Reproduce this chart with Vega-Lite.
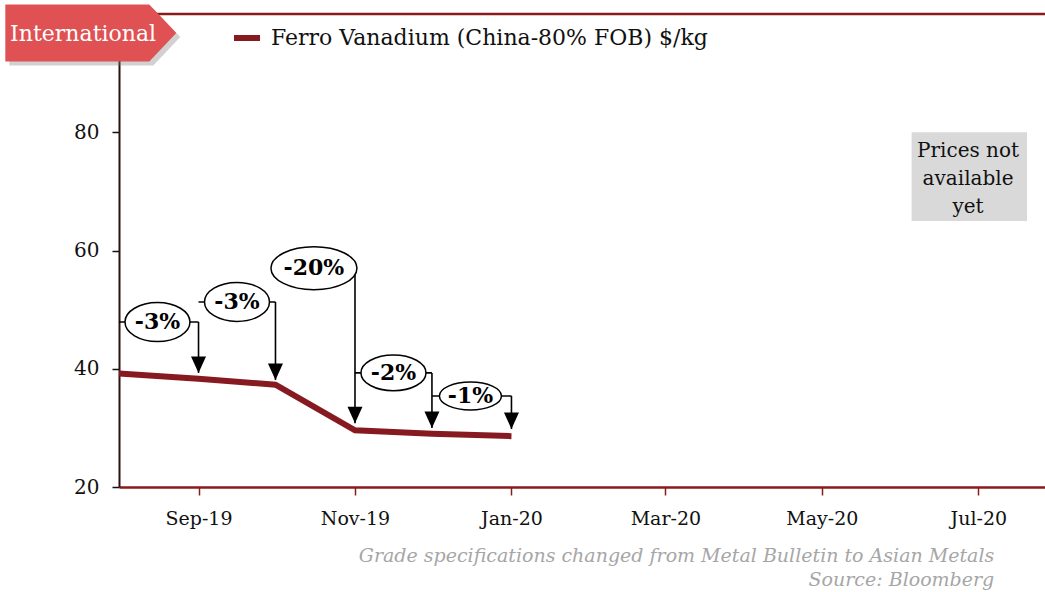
{
  "$schema": "https://vega.github.io/schema/vega-lite/v6.json",
  "width": 926,
  "height": 473,
  "autosize": "none",
  "padding": {"left": 119, "top": 14, "right": 0, "bottom": 105},
  "background": "white",
  "config": {"view": {"stroke": null}, "font": "DejaVu Serif"},
  "title": {
    "text": "Grade specifications changed from Metal Bulletin to Asian Metals",
    "subtitle": "Source: Bloomberg",
    "orient": "bottom",
    "anchor": "end",
    "dx": -52,
    "offset": 19,
    "font": "DejaVu Serif",
    "fontSize": 19,
    "fontStyle": "italic",
    "fontWeight": "normal",
    "color": "#a6a6a6",
    "subtitleFont": "DejaVu Serif",
    "subtitleFontSize": 19,
    "subtitleFontStyle": "italic",
    "subtitleColor": "#a6a6a6",
    "subtitlePadding": 5
  },
  "datasets": {
    "price": [
      {"date": "2019-08-01", "price": 39.2},
      {"date": "2019-09-01", "price": 38.3},
      {"date": "2019-10-01", "price": 37.3},
      {"date": "2019-11-01", "price": 29.6},
      {"date": "2019-12-01", "price": 29.0},
      {"date": "2020-01-01", "price": 28.6}
    ],
    "chg": [
      {"label": "-3%", "start": "2019-08-01", "end": "2019-09-01", "mid": "2019-08-16", "level": 47.9, "tip": 39.3},
      {"label": "-3%", "start": "2019-09-01", "end": "2019-10-01", "mid": "2019-09-16", "level": 51.3, "tip": 38.1},
      {"label": "-20%", "start": "2019-10-01", "end": "2019-11-01", "mid": "2019-10-16", "level": 57.0, "tip": 30.8},
      {"label": "-2%", "start": "2019-11-01", "end": "2019-12-01", "mid": "2019-11-16", "level": 39.3, "tip": 30.0},
      {"label": "-1%", "start": "2019-12-01", "end": "2020-01-01", "mid": "2019-12-16", "level": 35.4, "tip": 29.8}
    ],
    "one": [{}]
  },
  "encoding": {
    "x": {
      "type": "temporal",
      "scale": {"type": "utc", "domain": [{"year": 2019, "month": 8, "date": 1, "utc": true}, {"year": 2020, "month": 7, "date": 27, "utc": true}]},
      "axis": {
        "title": null,
        "grid": false,
        "values": [
          {"year": 2019, "month": 9, "date": 1, "utc": true},
          {"year": 2019, "month": 11, "date": 1, "utc": true},
          {"year": 2020, "month": 1, "date": 1, "utc": true},
          {"year": 2020, "month": 3, "date": 1, "utc": true},
          {"year": 2020, "month": 5, "date": 1, "utc": true},
          {"year": 2020, "month": 7, "date": 1, "utc": true}
        ],
        "labelExpr": "utcFormat(datum.value, '%b-%y')",
        "domainColor": "#8b1a1a",
        "domainWidth": 2.5,
        "tickColor": "#8b1a1a",
        "tickWidth": 1.5,
        "tickSize": 8,
        "labelFont": "DejaVu Serif",
        "labelFontSize": 19,
        "labelColor": "#111111",
        "labelPadding": 14
      }
    },
    "y": {
      "type": "quantitative",
      "scale": {"domain": [20, 100], "nice": false, "zero": false},
      "axis": {
        "title": null,
        "grid": false,
        "values": [20, 40, 60, 80],
        "domainColor": "#2e1010",
        "domainWidth": 2,
        "tickColor": "#111111",
        "tickWidth": 1.5,
        "tickSize": 7,
        "labelFont": "DejaVu Serif",
        "labelFontSize": 20,
        "labelColor": "#111111",
        "labelPadding": 13
      }
    }
  },
  "layer": [
    {
      "data": {"name": "one"},
      "mark": {"type": "rule", "color": "#8b1a1a", "strokeWidth": 2.5},
      "encoding": {"y": {"datum": 100, "type": "quantitative"}}
    },
    {
      "data": {"name": "price"},
      "mark": {"type": "line", "strokeWidth": 6, "strokeCap": "butt"},
      "encoding": {
        "x": {"field": "date"},
        "y": {"field": "price"},
        "color": {
          "datum": "Ferro Vanadium (China-80% FOB) $/kg",
          "scale": {"range": ["#861a20"]},
          "legend": {
            "title": null,
            "orient": "none",
            "legendX": 112,
            "legendY": 8,
            "symbolType": "stroke",
            "symbolStrokeWidth": 6,
            "symbolSize": 676,
            "labelFont": "DejaVu Serif",
            "labelFontSize": 22,
            "labelColor": "#111111",
            "labelOffset": 8,
            "labelLimit": 600
          }
        }
      }
    },
    {
      "data": {"name": "chg"},
      "mark": {"type": "rule", "color": "black", "strokeWidth": 1.6},
      "encoding": {"x": {"field": "start"}, "x2": {"field": "end"}, "y": {"field": "level"}}
    },
    {
      "data": {"name": "chg"},
      "mark": {"type": "rule", "color": "black", "strokeWidth": 1.6},
      "encoding": {"x": {"field": "end"}, "y": {"field": "level"}, "y2": {"field": "tip"}}
    },
    {
      "data": {"name": "chg"},
      "mark": {"type": "point", "shape": "M-1,-2.2L1,-2.2L0,0Z", "size": 225, "filled": true, "color": "black", "opacity": 1},
      "encoding": {"x": {"field": "end"}, "y": {"field": "tip"}}
    },
    {
      "data": {"name": "chg"},
      "mark": {"type": "point", "filled": false, "fill": "white", "fillOpacity": 1, "stroke": "black", "strokeWidth": 1.5, "opacity": 1},
      "encoding": {
        "x": {"field": "mid"},
        "y": {"field": "level"},
        "shape": {
          "field": "label",
          "type": "nominal",
          "legend": null,
          "scale": {
            "domain": ["-3%", "-20%", "-2%", "-1%"],
            "range": [
              "M-1,0C-1,-0.331,-0.552,-0.6,0,-0.6C0.552,-0.6,1,-0.331,1,0C1,0.331,0.552,0.6,0,0.6C-0.552,0.6,-1,0.331,-1,0Z",
              "M-1,0C-1,-0.276,-0.552,-0.5,0,-0.5C0.552,-0.5,1,-0.276,1,0C1,0.276,0.552,0.5,0,0.5C-0.552,0.5,-1,0.276,-1,0Z",
              "M-1,0C-1,-0.304,-0.552,-0.55,0,-0.55C0.552,-0.55,1,-0.304,1,0C1,0.304,0.552,0.55,0,0.55C-0.552,0.55,-1,0.304,-1,0Z",
              "M-1,0C-1,-0.249,-0.552,-0.45,0,-0.45C0.552,-0.45,1,-0.249,1,0C1,0.249,0.552,0.45,0,0.45C-0.552,0.45,-1,0.249,-1,0Z"
            ]
          }
        },
        "size": {
          "field": "label",
          "type": "nominal",
          "legend": null,
          "scale": {"type": "ordinal", "domain": ["-3%", "-20%", "-2%", "-1%"], "range": [4225, 7396, 4225, 3844]}
        }
      }
    },
    {
      "data": {"name": "chg"},
      "mark": {"type": "text", "font": "DejaVu Serif", "fontSize": 22, "fontWeight": "bold", "color": "black", "align": "center", "baseline": "middle"},
      "encoding": {"x": {"field": "mid"}, "y": {"field": "level"}, "text": {"field": "label"}}
    },
    {
      "data": {"name": "one"},
      "mark": {"type": "rect", "color": "#d9d9d9"},
      "encoding": {
        "x": {"datum": {"year": 2020, "month": 6, "date": 5, "utc": true}, "type": "temporal"},
        "x2": {"datum": {"year": 2020, "month": 7, "date": 20, "utc": true}},
        "y": {"datum": 65, "type": "quantitative"},
        "y2": {"datum": 80}
      }
    },
    {
      "data": {"name": "one"},
      "mark": {"type": "text", "text": ["Prices not", "available", "yet"], "font": "DejaVu Serif", "fontSize": 20, "lineHeight": 28, "color": "#111111", "align": "center", "baseline": "middle"},
      "encoding": {
        "x": {"datum": {"year": 2020, "month": 6, "date": 27, "utc": true}, "type": "temporal"},
        "y": {"datum": 76.9, "type": "quantitative"}
      }
    },
    {
      "data": {"name": "one"},
      "mark": {"type": "point", "shape": "M-1,-0.333L0.684,-0.333L1,0L0.684,0.333L-1,0.333Z", "size": 29241, "filled": true, "color": "#7a7a7a", "opacity": 0.35, "xOffset": 4, "yOffset": 4},
      "encoding": {
        "x": {"datum": {"year": 2019, "month": 7, "date": 21, "utc": true}, "type": "temporal"},
        "y": {"datum": 96.8, "type": "quantitative"}
      }
    },
    {
      "data": {"name": "one"},
      "mark": {"type": "point", "shape": "M-1,-0.333L0.684,-0.333L1,0L0.684,0.333L-1,0.333Z", "size": 29241, "filled": true, "color": "#df5152", "opacity": 1},
      "encoding": {
        "x": {"datum": {"year": 2019, "month": 7, "date": 21, "utc": true}, "type": "temporal"},
        "y": {"datum": 96.8, "type": "quantitative"}
      }
    },
    {
      "data": {"name": "one"},
      "mark": {"type": "text", "text": "International", "font": "DejaVu Serif", "fontSize": 22, "color": "white", "align": "center", "baseline": "middle"},
      "encoding": {
        "x": {"datum": {"year": 2019, "month": 7, "date": 18, "utc": true}, "type": "temporal"},
        "y": {"datum": 96.7, "type": "quantitative"}
      }
    }
  ]
}
